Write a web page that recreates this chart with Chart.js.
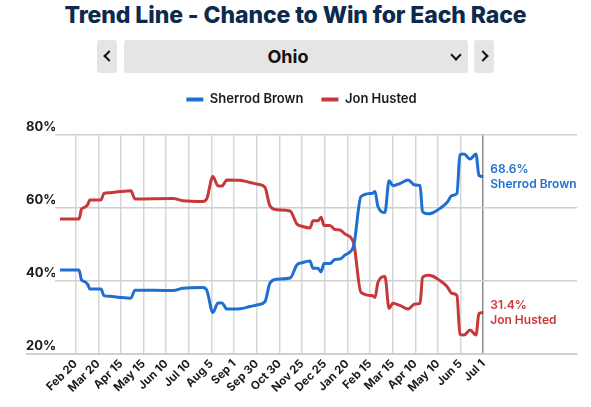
<!DOCTYPE html>
<html>
<head>
<meta charset="utf-8">
<script src="https://cdn.jsdelivr.net/npm/chart.js@4"></script>
<style>
  body { margin: 0; width: 591px; height: 407px; background: #fff; font-family: Inter, sans-serif; position: relative; overflow: hidden; }
  #title { position: absolute; top: 1px; left: 0; width: 591px; text-align: center; font-size: 23px; font-weight: 800; color: #0c2a4d; letter-spacing: -0.1px; }
  .box { position: absolute; top: 40px; height: 33px; background: #e5e5e5; border-radius: 3px; }
  #state { left: 124px; width: 344px; font-size: 18px; font-weight: 700; color: #111; line-height: 33px; text-align: center; box-sizing: border-box; padding-right: 16px; }
  .chev { position: absolute; width: 6px; height: 6px; border-left: 2.5px solid #111; border-bottom: 2.5px solid #111; }
  #wrap { position: absolute; left: 0; top: 75px; width: 591px; height: 332px; }
</style>
</head>
<body>
<div id="title">Trend Line - Chance to Win for Each Race</div>
<div class="box" style="left:97px;width:20px"><span class="chev" style="left:8px;top:12px;transform:rotate(45deg)"></span></div>
<div class="box" id="state">Ohio<span class="chev" style="left:328px;top:11px;transform:rotate(-45deg)"></span></div>
<div class="box" style="left:474px;width:20px"><span class="chev" style="left:5px;top:12px;transform:rotate(-135deg)"></span></div>
<div id="wrap"><canvas id="trend"></canvas></div>
<script>
const tickLabels = ['Feb 20', 'Mar 20', 'Apr 15', 'May 15', 'Jun 10', 'Jul 10', 'Aug 5', 'Sep 1', 'Sep 30',
  'Oct 30', 'Nov 25', 'Dec 25', 'Jan 20', 'Feb 15', 'Mar 15', 'Apr 10', 'May 10', 'Jun 5', 'Jul 1'];

// position along the axis, in tick steps (0 = Feb 20, 18 = Jul 1)
const pos = [-0.69, 0.15, 0.26, 0.41, 0.54, 0.63, 1.12, 1.25, 1.52, 1.96, 2.44, 2.62, 4.30, 4.74, 5.62, 5.79,
  6.06, 6.29, 6.46, 6.68, 7.26, 7.70, 8.05, 8.36, 8.58, 8.89, 9.47, 9.77, 10.00, 10.35, 10.48, 10.70,
  10.84, 10.97, 11.23, 11.45, 11.67, 11.89, 12.20, 12.29, 12.60, 13.09, 13.22, 13.35, 13.66, 13.84,
  14.01, 14.32, 14.68, 14.98, 15.21, 15.32, 15.56, 15.78, 16.09, 16.40, 16.62, 16.84, 16.97, 17.15,
  17.42, 17.68, 17.81, 18.00];

const brown = [43.0, 43.0, 40.3, 39.8, 39.0, 37.8, 37.8, 36.0, 35.8, 35.5, 35.3, 37.5, 37.4, 38.0, 38.2, 37.5,
  31.4, 34.0, 34.0, 32.3, 32.4, 33.0, 33.5, 34.3, 39.4, 40.5, 40.8, 44.4, 45.0, 45.5, 43.5, 43.5,
  42.5, 44.8, 44.8, 45.9, 46.0, 47.1, 48.5, 49.9, 63.1, 64.0, 64.5, 60.4, 58.8, 67.5,
  66.1, 66.7, 67.7, 66.3, 66.1, 59.0, 58.4, 58.7, 59.9, 61.5, 63.4, 64.0, 74.6, 74.8,
  73.4, 74.8, 68.9, 68.6];

const husted = [57.0, 57.0, 59.7, 60.2, 61.0, 62.2, 62.2, 64.0, 64.2, 64.5, 64.7, 62.5, 62.6, 62.0, 61.8, 62.5,
  68.6, 66.0, 66.0, 67.7, 67.6, 67.0, 66.5, 65.7, 60.6, 59.5, 59.2, 55.6, 55.0, 54.5, 56.5, 56.5,
  57.5, 55.2, 55.2, 54.1, 54.0, 52.9, 51.5, 50.1, 36.9, 36.0, 35.5, 39.6, 41.2, 32.5,
  33.9, 33.3, 32.3, 33.7, 33.9, 41.0, 41.6, 41.3, 40.1, 38.5, 36.6, 36.0, 25.4, 25.2,
  26.6, 25.2, 31.1, 31.4];

const BLUE = '#1f6fd3';
const RED = '#c8383b';
const FONT = 'Inter, sans-serif';

function pts(vals) {
  return vals.map((v, i) => ({ x: pos[i], y: v }));
}

// name + last value next to the end of each line
const endLabels = {
  id: 'endLabels',
  afterDatasetsDraw(chart) {
    const ctx = chart.ctx;
    ctx.save();
    ctx.font = '600 12px ' + FONT;
    ctx.textBaseline = 'middle';
    chart.data.datasets.forEach((ds, i) => {
      const meta = chart.getDatasetMeta(i);
      const last = meta.data[meta.data.length - 1];
      const val = ds.data[ds.data.length - 1].y;
      ctx.fillStyle = ds.borderColor;
      ctx.fillText(val.toFixed(1) + '%', last.x + 7, last.y - 7);
      ctx.fillText(ds.label, last.x + 7, last.y + 8);
    });
    ctx.restore();
  }
};

// bottom rule runs on under the y labels
const baseRule = {
  id: 'baseRule',
  beforeDraw(chart) {
    const { ctx, chartArea } = chart;
    ctx.save();
    ctx.strokeStyle = '#cfcfcf';
    ctx.lineWidth = 2;
    ctx.beginPath();
    ctx.moveTo(26, chartArea.bottom);
    ctx.lineTo(chartArea.left, chartArea.bottom);
    ctx.stroke();
    ctx.restore();
  }
};

// extra room under the legend
const legendGap = {
  id: 'legendGap',
  beforeInit(chart) {
    const fit = chart.legend.fit;
    chart.legend.fit = function () {
      fit.call(this);
      this.height += 19;
    };
  }
};

const defaultLabels = Chart.defaults.plugins.legend.labels.generateLabels;

new Chart(document.getElementById('trend'), {
  type: 'line',
  data: {
    datasets: [
      { label: 'Sherrod Brown', data: pts(brown), borderColor: BLUE, backgroundColor: BLUE },
      { label: 'Jon Husted', data: pts(husted), borderColor: RED, backgroundColor: RED }
    ]
  },
  options: {
    responsive: true,
    maintainAspectRatio: false,
    animation: false,
    layout: { padding: { left: 26, right: 14, top: 0, bottom: 0 } },
    elements: {
      point: { radius: 0 },
      line: { borderWidth: 3, cubicInterpolationMode: 'monotone' }
    },
    scales: {
      x: {
        type: 'linear',
        min: -0.91,
        max: 22.14,
        afterBuildTicks: (s) => { s.ticks = tickLabels.map((_, i) => ({ value: i })); },
        afterFit: (s) => { s.height = 53; },
        ticks: {
          autoSkip: false,
          minRotation: 45,
          maxRotation: 45,
          padding: 3,
          color: '#1a1a1a',
          font: { family: FONT, size: 11.5, weight: '700' },
          callback: (v) => tickLabels[v] ?? ''
        },
        grid: {
          drawTicks: false,
          lineWidth: 1.5,
          color: (c) => c.index === tickLabels.length - 1 ? '#8c8c8c' : '#d6d6d6'
        },
        border: { color: '#cfcfcf', width: 2 }
      },
      y: {
        min: 20,
        max: 80,
        afterFit: (s) => { s.width = 29; },
        ticks: {
          stepSize: 20,
          crossAlign: 'far',
          labelOffset: -8,
          padding: 0,
          color: '#1a1a1a',
          font: { family: FONT, size: 13, weight: '700' },
          callback: (v) => v + '%'
        },
        grid: { drawTicks: false, lineWidth: 1.5, color: '#cfcfcf' },
        border: { display: false }
      }
    },
    plugins: {
      legend: {
        position: 'top',
        labels: {
          boxWidth: 17,
          boxHeight: 4,
          padding: 18,
          color: '#1a1a1a',
          font: { family: FONT, size: 13, weight: '600' },
          generateLabels: (chart) => defaultLabels(chart).map((l) => ({ ...l, lineWidth: 0 }))
        }
      },
      tooltip: { enabled: false }
    }
  },
  plugins: [endLabels, baseRule, legendGap]
});
</script>
</body>
</html>
